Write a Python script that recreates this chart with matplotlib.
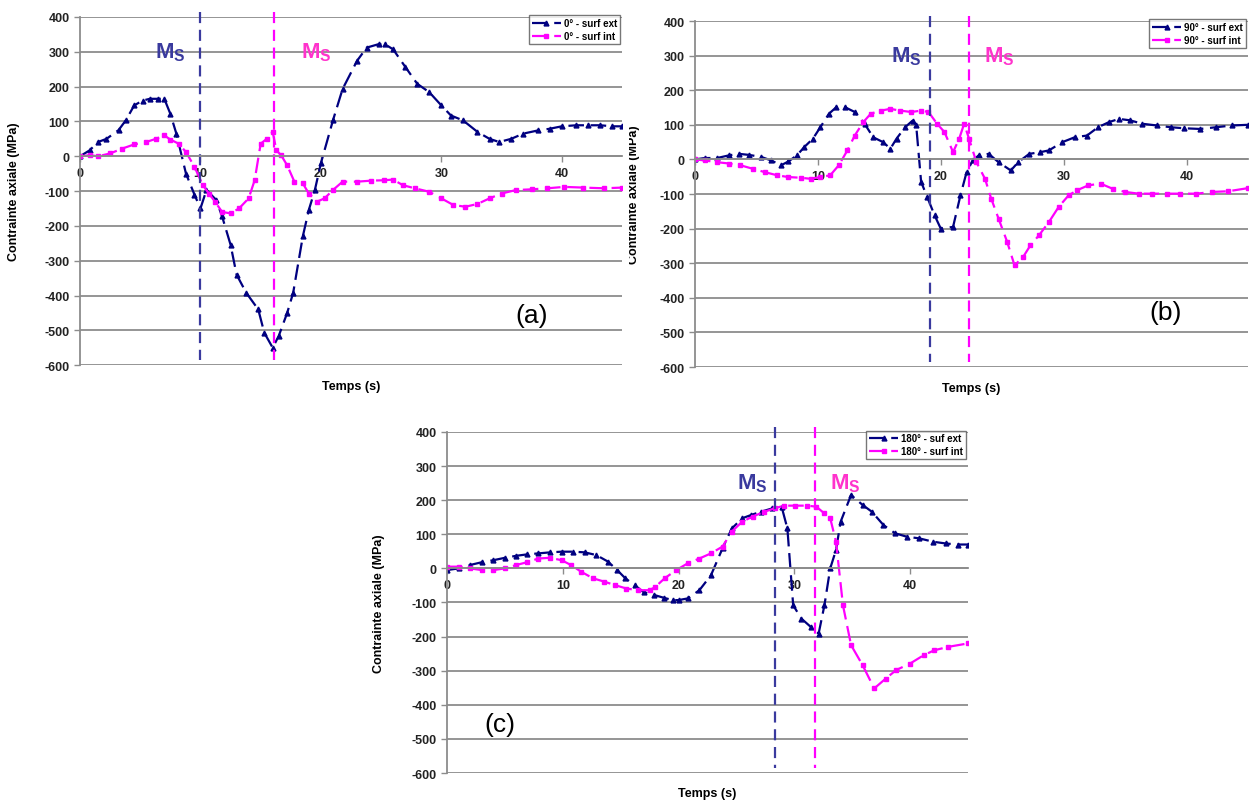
import matplotlib.pyplot as plt
from matplotlib.transforms import Bbox, TransformedBbox

plt.rcParams['font.family'] = ['Liberation Sans', 'DejaVu Sans']
plt.rcParams['mathtext.fontset'] = 'custom'
plt.rcParams['mathtext.rm'] = 'Liberation Sans'
plt.rcParams['mathtext.bf'] = 'Liberation Sans:bold'
plt.rcParams['axes.unicode_minus'] = False

# (a) 0 deg
t_a_ext = [0, 0.8, 1.5, 2.2, 3.2, 3.8, 4.5, 5.2, 5.8, 6.5, 7, 7.5, 8, 8.8, 9.5, 10, 10.5, 11.3, 11.8,
           12.5, 13, 13.8, 14.8, 15.3, 16, 16.5, 17.2, 17.7, 18.5, 19, 19.5, 20, 21, 21.8, 23, 23.8,
           24.8, 25.3, 26, 27, 28, 29, 30, 30.8, 31.8, 33, 34, 34.8, 35.8, 36.8, 38, 39, 40, 41.2,
           42.2, 43.2, 44.2, 45]
v_a_ext = [0, 17, 41, 50, 75, 103, 146, 160, 165, 165, 165, 122, 65, -50, -110, -150, -97, -125, -173,
           -254, -340, -392, -440, -507, -550, -516, -450, -392, -230, -154, -97, -20, 103, 193, 274, 312,
           322, 322, 307, 257, 208, 184, 146, 117, 103, 70, 50, 41, 50, 65, 74, 79, 86, 89,
           89, 89, 86, 86]
t_a_int = [0, 0.8, 1.5, 2.5, 3.5, 4.5, 5.5, 6.3, 7, 7.5, 8.2, 8.8, 9.5, 10.2, 10.7, 11.2, 11.8, 12.5,
           13.2, 14, 14.5, 15, 15.5, 16, 16.3, 16.7, 17.2, 17.8, 18.5, 19, 19.7, 20.3, 21, 21.8, 23,
           24.2, 25.2, 26, 26.8, 27.8, 29, 30, 31, 32, 33, 34, 35, 36.2, 37.5, 38.8, 40.2, 41.8, 43.5, 45]
v_a_int = [0, 3, 0, 8, 22, 34, 41, 50, 60, 48, 36, 12, -30, -83, -107, -130, -160, -164,
           -150, -121, -69, 36, 50, 70, 17, 3, -26, -73, -78, -107, -130, -121, -97, -73, -73,
           -70, -69, -67, -83, -92, -102, -121, -140, -145, -137, -121, -107, -97, -95, -92, -88, -90, -92, -90]
ms_a = [10.0, 16.1]

# (b) 90 deg
t_b_ext = [0, 0.8, 1.8, 2.8, 3.6, 4.4, 5.4, 6.2, 7, 7.6, 8.3, 8.9, 9.6, 10.2, 10.9, 11.5, 12.2, 13,
           13.8, 14.5, 15.3, 15.9, 16.4, 17.1, 17.7, 18, 18.4, 18.9, 19.5, 20, 21, 21.6, 22.1, 22.6,
           23.1, 23.9, 24.7, 25.7, 26.3, 27.2, 28.1, 28.8, 29.9, 30.9, 31.9, 32.8, 33.7, 34.5, 35.4,
           36.4, 37.6, 38.7, 39.8, 41.1, 42.4, 43.7, 45]
v_b_ext = [0, 4, 4, 12, 16, 13, 7, -3, -17, -6, 12, 36, 60, 93, 132, 151, 151, 137,
           103, 64, 50, 31, 60, 93, 112, 98, -65, -109, -162, -200, -195, -104, -37, -3,
           12, 16, -8, -32, -8, 16, 21, 26, 50, 64, 69, 93, 108, 117, 113,
           103, 98, 93, 90, 88, 93, 98, 100]
t_b_int = [0, 0.8, 1.8, 2.8, 3.7, 4.7, 5.7, 6.7, 7.6, 8.6, 9.4, 10.2, 11, 11.7, 12.4, 13, 13.7, 14.3,
           15.1, 15.9, 16.7, 17.6, 18.4, 19, 19.7, 20.3, 21, 21.5, 21.9, 22.3, 22.9, 23.6, 24.1, 24.7,
           25.4, 26, 26.7, 27.3, 28, 28.8, 29.6, 30.4, 31.1, 32, 33, 34, 35, 36.1, 37.2, 38.4, 39.5,
           40.8, 42.1, 43.4, 45]
v_b_int = [0, -3, -8, -12, -17, -27, -37, -46, -51, -53, -56, -51, -46, -17, 26, 69, 108, 132,
           141, 146, 141, 137, 141, 137, 103, 79, 21, 60, 103, 60, -8, -56, -113, -171,
           -238, -306, -282, -248, -219, -181, -137, -104, -89, -75, -70, -85, -94, -99, -99, -99, -99,
           -99, -94, -92, -83]
ms_b = [19.1, 22.3]

# (c) 180 deg
t_c_ext = [0, 1, 2, 3, 4, 5, 6, 6.9, 7.9, 8.9, 9.9, 10.9, 11.9, 12.9, 13.9, 14.7, 15.4, 16.2, 17,
           17.9, 18.7, 19.5, 20, 20.8, 21.8, 22.8, 23.8, 24.6, 25.5, 26.3, 27.1, 28.1, 28.9, 29.4,
           29.9, 30.6, 31.4, 32.1, 32.6, 33.1, 33.6, 34, 34.9, 35.9, 36.7, 37.7, 38.7, 39.7, 40.8,
           42, 43.1, 44.1, 45]
v_c_ext = [-5, 0, 10, 18, 24, 31, 37, 41, 44, 47, 49, 49, 47, 39, 20, -5, -29, -49, -70,
           -78, -86, -93, -93, -88, -64, -20, 59, 117, 147, 157, 166, 176, 181, 117,
           -108, -147, -171, -191, -108, 0, 54, 137, 215, 186, 166, 127, 103, 93, 88,
           78, 73, 70, 70]
t_c_int = [0, 1, 2, 3, 4, 5, 6, 6.9, 7.9, 8.9, 9.9, 10.7, 11.6, 12.6, 13.6, 14.5, 15.5, 16.5, 17.5,
           18, 18.8, 19.8, 20.8, 21.8, 22.8, 23.8, 24.6, 25.5, 26.4, 27.4, 28.3, 29.1, 30.1, 31.1,
           31.9, 32.6, 33.1, 33.6, 34.2, 34.9, 35.9, 36.9, 37.9, 38.8, 40, 41.2, 42.1, 43.3, 45]
v_c_int = [5, 5, 0, -5, -5, 0, 10, 18, 29, 31, 24, 10, -10, -29, -39, -49, -59, -64, -64,
           -54, -29, -5, 15, 29, 44, 64, 108, 137, 152, 166, 176, 184, 184, 184,
           181, 161, 147, 78, -108, -225, -284, -352, -323, -298, -279, -254, -240, -230, -220]
ms_c = [28.3, 31.8]

panels = [
    dict(rect=[0.064, 0.544, 0.4336, 0.4336], ext=(t_a_ext, v_a_ext), intr=(t_a_int, v_a_int), ms=ms_a,
         labels=['0° - surf ext', '0° - surf int'], ms_txt=[7.5, 19.6], ms_y=300, tag='(a)',
         tag_xy=(37.5, -455), ylab_x=-0.11),
    dict(rect=[0.556, 0.5417, 0.4424, 0.4309], ext=(t_b_ext, v_b_ext), intr=(t_b_int, v_b_int), ms=ms_b,
         labels=['90° - surf ext', '90° - surf int'], ms_txt=[17.2, 24.8], ms_y=300, tag='(b)',
         tag_xy=(38.3, -440), ylab_x=-0.0995),
    dict(rect=[0.3576, 0.0361, 0.4168, 0.4247], ext=(t_c_ext, v_c_ext), intr=(t_c_int, v_c_int), ms=ms_c,
         labels=['180° - suf ext', '180° - surf int'], ms_txt=[26.4, 34.4], ms_y=250, tag='(c)',
         tag_xy=(4.6, -455), ylab_x=-0.119),
]

navy = '#000080'
mag = '#ff00ff'
ms_navy = '#3a3a9e'
ms_pink = '#ff33cc'

fig = plt.figure(figsize=(12.5, 8.03), dpi=100)

for i, p in enumerate(panels):
    ax = fig.add_axes(p['rect'])
    ax.set_xlim(0, 45)
    ax.set_ylim(-600, 400)
    ax.set_yticks(range(-600, 401, 100))
    ax.set_xticks([0, 10, 20, 30, 40])
    ax.grid(axis='y', color='#8c8c8c', lw=1.3)
    ax.set_axisbelow(True)
    for s in ['top', 'right']:
        ax.spines[s].set_visible(False)
    ax.spines['left'].set_color('#8c8c8c')
    ax.spines['left'].set_linewidth(1.3)
    ax.spines['bottom'].set_position(('data', 0))
    ax.spines['bottom'].set_color('#8c8c8c')
    ax.spines['bottom'].set_linewidth(1.3)
    ax.tick_params(axis='both', colors='#8c8c8c', labelcolor='#222222', labelsize=9, length=4, width=1)
    for lab in ax.get_xticklabels() + ax.get_yticklabels():
        lab.set_fontweight('bold')

    ax.plot(*p['ext'], color=navy, ls=(0, (7, 3)), lw=1.6, marker='^', ms=3.5, label=p['labels'][0])
    ax.plot(*p['intr'], color=mag, ls=(0, (7, 3)), lw=1.6, marker='s', ms=2.3, label=p['labels'][1])

    for x, c in zip(p['ms'], [ms_navy, mag]):
        ax.plot([x, x], [415, -585], color=c, ls=(0, (5, 3)), lw=1.6, clip_on=False)
    for x, c in zip(p['ms_txt'], [ms_navy, ms_pink]):
        ax.text(x, p['ms_y'], r'$\mathbf{M_S}$', color=c, fontsize=16, ha='center', va='center')

    ax.text(*p['tag_xy'], p['tag'], fontsize=19, ha='center', va='center')

    leg = ax.legend(loc='upper right', bbox_to_anchor=(1.0, 1.01), fontsize=7, frameon=True, fancybox=False,
                    handlelength=3, borderpad=0.3, labelspacing=0.3, handletextpad=0.3, borderaxespad=0.2)
    leg.get_frame().set_edgecolor('#555555')
    leg.get_frame().set_linewidth(1)
    for t in leg.get_texts():
        t.set_fontweight('bold')

    ax.text(0.5, -0.06, 'Temps (s)', transform=ax.transAxes, ha='center', va='center',
            fontsize=9, fontweight='bold')
    ax.set_ylabel('Contrainte axiale (MPa)', fontsize=9, fontweight='bold')
    ax.yaxis.set_label_coords(p['ylab_x'], 0.5)
    if i == 1:
        # the label of (b) is cut by the panel border in the original
        ylab = ax.yaxis.label
        ylab.set_clip_on(True)
        ylab.set_clip_box(TransformedBbox(Bbox([[0.5032, 0], [1, 1]]), fig.transFigure))

fig.savefig('out.png', dpi=100)
